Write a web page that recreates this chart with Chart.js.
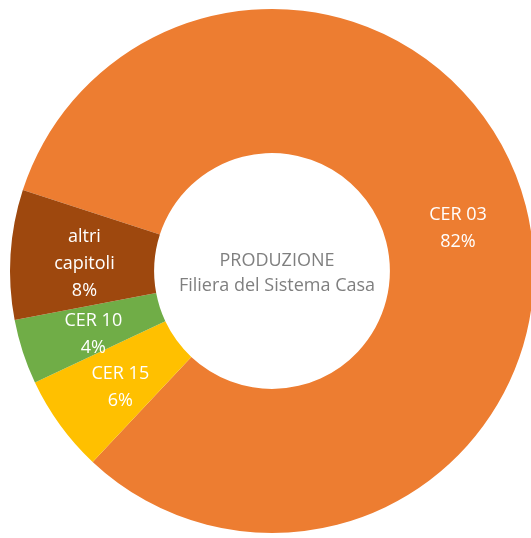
<!DOCTYPE html>
<html>
<head>
<meta charset="utf-8">
<script src="https://cdn.jsdelivr.net/npm/chart.js@4/dist/chart.umd.min.js"></script>
<style>
  html, body { margin: 0; padding: 0; background: #fff; overflow: hidden; }
  #wrap { width: 544px; height: 542px; }
</style>
</head>
<body>
<div id="wrap"><canvas id="main-chart" width="544" height="542"></canvas></div>
<script>
// data, clockwise from the top-left boundary
const categories = ['CER 03', 'CER 15', 'CER 10', 'altri capitoli']
const shares = [82, 6, 4, 8]
const sliceLabels = [['CER 03', '82%'], ['CER 15', '6%'], ['CER 10', '4%'], ['altri', 'capitoli', '8%']]
const centerLines = ['PRODUZIONE', 'Filiera del Sistema Casa']
const colors = ['#ED7D31', '#FFC000', '#70AD47', '#9E480E']

const FONT = '"Open Sans", "Noto Sans", sans-serif'

// white text inside each slice
const sliceText = {
  id: 'sliceText',
  afterDatasetsDraw(chart) {
    const ctx = chart.ctx
    const meta = chart.getDatasetMeta(0)
    ctx.save()
    ctx.fillStyle = '#ffffff'
    ctx.font = '18px ' + FONT
    ctx.textAlign = 'center'
    ctx.textBaseline = 'middle'
    meta.data.forEach((arc, i) => {
      const p = arc.tooltipPosition()
      const lines = sliceLabels[i]
      const lh = 27
      const y0 = p.y + 5 - (lines.length - 1) * lh / 2
      lines.forEach((t, k) => ctx.fillText(t, p.x + 2, y0 + k * lh))
    })
    ctx.restore()
  }
}

// grey text in the hole
const centerText = {
  id: 'centerText',
  afterDraw(chart) {
    const ctx = chart.ctx
    const arc = chart.getDatasetMeta(0).data[0]
    ctx.save()
    ctx.fillStyle = '#7F7F7F'
    ctx.font = '18px ' + FONT
    ctx.textAlign = 'center'
    ctx.textBaseline = 'middle'
    ctx.fillText(centerLines[0], arc.x + 5, arc.y - 10)
    ctx.fillText(centerLines[1], arc.x + 5, arc.y + 15)
    ctx.restore()
  }
}

const mainChart = new Chart(document.getElementById('main-chart'), {
  type: 'doughnut',
  data: {
    labels: categories,
    datasets: [
      {
        data: shares,
        backgroundColor: colors,
        borderWidth: 0,
      },
    ],
  },
  options: {
    responsive: false,
    animation: false,
    cutout: '45%',
    rotation: -72,
    layout: {
      padding: { left: 10, right: 10, top: 9, bottom: 9 },
    },
    plugins: {
      legend: { display: false },
      tooltip: { enabled: false },
    },
  },
  plugins: [sliceText, centerText],
})
</script>
</body>
</html>
